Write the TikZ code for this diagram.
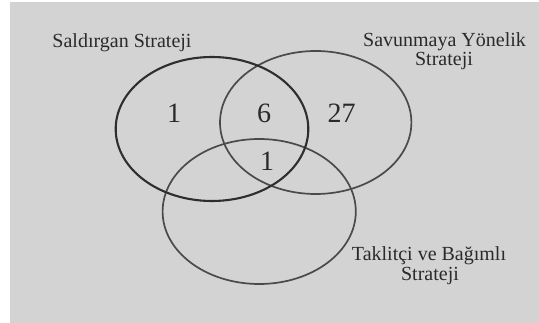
\documentclass[tikz,border=0pt]{standalone}
\usepackage{fontspec}
\setmainfont{Liberation Serif}
\definecolor{bggray}{HTML}{D3D3D3}
\definecolor{inkA}{HTML}{2E2E2E}
\definecolor{inkB}{HTML}{4A4A4A}
\definecolor{txt}{HTML}{2A2A2A}
\begin{document}
\begin{tikzpicture}[x=1pt,y=-1pt,
  setA/.style={draw=inkA,line width=2.1pt},
  setB/.style={draw=inkB,line width=1.7pt},
  lbl/.style={text=txt,font=\fontsize{20}{19.5}\selectfont,align=center,inner sep=0pt},
  num/.style={text=txt,font=\fontsize{28}{30}\selectfont,inner sep=0pt,anchor=base}]
\useasboundingbox (0,0) rectangle (539,323);
\fill[white] (0,0) rectangle (539,323);
\fill[bggray] (10,2) rectangle (539,323);
% sets
\draw[setB] (315.7,122.5) ellipse [x radius=95.7, y radius=71.5];
\draw[setB] (259.2,211.5) ellipse [x radius=96.6, y radius=72.5];
\draw[setA] (212,129) ellipse [x radius=96.3, y radius=72];
% labels
\node[lbl,anchor=base] (la) at (122,47.7) {Saldırgan Strateji};
\node[lbl,anchor=base] (lb1) at (444.5,46.7) {Savunmaya Yönelik};
\node[lbl,anchor=base] (lb2) at (444,65.7) {Strateji};
\node[lbl,anchor=base] (lc1) at (429,261) {Taklitçi ve Bağımlı};
\node[lbl,anchor=base] (lc2) at (430,281) {Strateji};
% numbers
\node[num] (nA) at (174,122.7) {1};
\node[num] (nAB) at (264,123) {6};
\node[num] (nB) at (341.5,122.7) {27};
\node[num] (nABC) at (267,171) {1};
\end{tikzpicture}
\end{document}
